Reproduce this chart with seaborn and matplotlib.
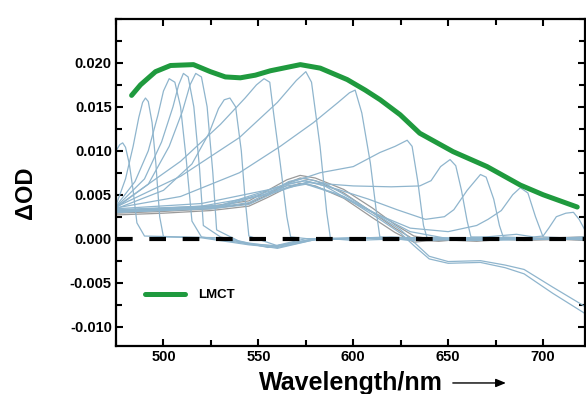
import numpy as np
import pandas as pd
import matplotlib
matplotlib.use("Agg")
import matplotlib.pyplot as plt
from matplotlib.ticker import MultipleLocator
import seaborn as sns

# LMCT envelope (green)
lmct_wl = [483.2, 487.9, 495.8, 503.7, 515.8, 524.7, 532.6, 540.5, 548.4, 556.3, 572.1,
           582.6, 596.8, 606.3, 614.2, 624.7, 635.0, 652.6, 670.5, 688.0, 700.0, 718.0]
lmct_od = [0.0163, 0.0175, 0.0190, 0.0197, 0.0198, 0.0190, 0.0184, 0.0183, 0.0186, 0.0191, 0.0198,
           0.0194, 0.0181, 0.0169, 0.0158, 0.0141, 0.0120, 0.0099, 0.0082, 0.0061, 0.0050, 0.0036]

# transient spectra (blue-grey), one per probe peak
p478_wl = [475, 477, 478.5, 480, 482, 484, 486, 490, 510, 530, 545, 560, 575, 600, 640, 680, 722]
p478_od = [0.0100, 0.0107, 0.0109, 0.0104, 0.0085, 0.0055, 0.0018, 0.0003, 0.0002, 0.0001,
           -0.0006, -0.0008, -0.0002, 0.0001, -0.0002, 0.0001, -0.0001]

p490_wl = [475, 480, 484, 487, 489, 490.5, 492, 494, 496, 498, 500, 520, 545, 560, 580, 620, 660, 722]
p490_od = [0.0038, 0.0068, 0.0105, 0.0138, 0.0155, 0.0160, 0.0156, 0.0132, 0.0085, 0.0025,
           0.0002, 0.0001, -0.0007, -0.0010, -0.0001, 0.0002, -0.0002, 0.0000]

p503_wl = [475, 485, 492, 497, 500, 503, 506, 509, 512, 515, 520, 545, 560, 580, 620, 680, 722]
p503_od = [0.0037, 0.0065, 0.0100, 0.0140, 0.0168, 0.0182, 0.0178, 0.0150, 0.0090, 0.0020,
           0.0002, -0.0006, -0.0011, -0.0001, 0.0001, -0.0001, 0.0001]

p510_wl = [475, 490, 499, 505, 508, 510.5, 513, 516, 519, 521, 530, 545, 560, 580, 620, 690, 722]
p510_od = [0.0036, 0.0068, 0.0110, 0.0150, 0.0175, 0.0188, 0.0184, 0.0150, 0.0080, 0.0015,
           0.0002, -0.0005, -0.0009, 0.0000, 0.0001, 0.0000, -0.0001]

p517_wl = [475, 492, 503, 510, 514, 517, 520, 523, 526, 528, 540, 555, 575, 620, 690, 722]
p517_od = [0.0035, 0.0062, 0.0105, 0.0145, 0.0175, 0.0188, 0.0184, 0.0150, 0.0075, 0.0010,
           -0.0003, -0.0010, 0.0000, 0.0001, -0.0001, 0.0001]

p534_wl = [475, 500, 515, 524, 529, 532, 535, 538, 541, 543, 545, 560, 580, 620, 690, 722]
p534_od = [0.0034, 0.0055, 0.0085, 0.0120, 0.0148, 0.0158, 0.0160, 0.0150, 0.0100, 0.0045,
           0.0003, -0.0008, 0.0000, 0.0001, 0.0000, -0.0001]

p554_wl = [475, 509, 530, 543, 549, 553, 556, 558, 561.5, 565, 567, 580, 620, 690, 722]
p554_od = [0.0036, 0.0088, 0.0130, 0.0160, 0.0175, 0.0182, 0.0178, 0.0143, 0.0086, 0.0025,
           0.0002, -0.0001, 0.0001, -0.0001, 0.0001]

p576_wl = [475, 509, 540, 560, 570, 575, 578, 582.5, 586, 588, 600, 640, 690, 722]
p576_od = [0.0036, 0.0071, 0.0115, 0.0155, 0.0180, 0.0190, 0.0178, 0.0105, 0.0030, 0.0000,
           -0.0002, 0.0001, -0.0001, 0.0002]

p601_wl = [475, 509, 540, 561.5, 579, 592, 598, 601, 604.5, 609, 612.5, 614, 630, 660, 722]
p601_od = [0.0035, 0.0048, 0.0075, 0.0105, 0.0132, 0.0155, 0.0166, 0.0169, 0.0143, 0.0086,
           0.0025, 0.0002, -0.0002, 0.0001, 0.0000]

p628_wl = [475, 520, 556, 582.5, 600, 614, 622, 628.4, 631, 634, 637, 639, 660, 722]
p628_od = [0.0034, 0.0040, 0.0056, 0.0075, 0.0082, 0.0098, 0.0105, 0.0112, 0.0105, 0.0065,
           0.0015, 0.0000, -0.0002, 0.0001]

p651_wl = [475, 520, 555, 575, 600, 620, 635, 641, 646, 651, 654, 657, 660, 662, 690, 722]
p651_od = [0.0033, 0.0037, 0.0050, 0.0064, 0.0060, 0.0059, 0.0060, 0.0066, 0.0082, 0.0090,
           0.0083, 0.0055, 0.0020, 0.0002, 0.0000, -0.0001]

p667_wl = [475, 530, 565, 575, 592, 608, 623, 638, 648, 653, 660, 667, 670, 674, 677, 679, 700, 722]
p667_od = [0.0032, 0.0038, 0.0062, 0.0066, 0.0056, 0.0045, 0.0033, 0.0022, 0.0025, 0.0033,
           0.0055, 0.0073, 0.0070, 0.0045, 0.0015, 0.0002, 0.0000, 0.0001]

p688_wl = [475, 530, 565, 575, 590, 610, 630, 650, 665, 671, 678, 684, 688, 692, 696, 700, 722]
p688_od = [0.0031, 0.0037, 0.0060, 0.0063, 0.0052, 0.0030, 0.0012, 0.0008, 0.0015, 0.0022,
           0.0032, 0.0050, 0.0058, 0.0052, 0.0025, 0.0002, 0.0000]

p716_wl = [475, 530, 565, 575, 595, 615, 630, 650, 670, 686, 695, 700, 703, 707, 712, 716, 719, 722]
p716_od = [0.0030, 0.0036, 0.0058, 0.0062, 0.0048, 0.0025, 0.0008, 0.0000, 0.0002, 0.0005,
           0.0002, 0.0003, 0.0012, 0.0025, 0.0029, 0.0030, 0.0022, 0.0010]

# broad grey band (early-time spectra)
grey1_wl = [475, 500, 525, 545, 555, 565, 572, 580, 595, 610, 622, 632, 645, 665, 690, 722]
grey1_od = [0.0029, 0.0031, 0.0034, 0.0040, 0.0050, 0.0063, 0.0069, 0.0066, 0.0052, 0.0030,
            0.0012, -0.0001, -0.0003, 0.0001, -0.0002, 0.0000]
grey2_od = [0.0027, 0.0029, 0.0032, 0.0037, 0.0047, 0.0058, 0.0063, 0.0060, 0.0046, 0.0024,
            0.0007, -0.0004, -0.0001, -0.0003, 0.0001, -0.0002]
grey3_od = [0.0032, 0.0034, 0.0037, 0.0043, 0.0055, 0.0067, 0.0072, 0.0069, 0.0056, 0.0035,
            0.0016, 0.0003, -0.0002, -0.0001, 0.0000, 0.0002]

neg_wl = [475, 500, 525, 545, 556, 566, 574, 585, 597, 614, 625, 632, 640, 650, 667, 680, 690, 705, 722]
neg1_od = [0.0031, 0.0033, 0.0035, 0.0041, 0.0053, 0.0065, 0.0069, 0.0063, 0.0048, 0.0025,
           0.0010, -0.0004, -0.0020, -0.0026, -0.0025, -0.0030, -0.0035, -0.0055, -0.0077]
neg2_od = [0.0030, 0.0032, 0.0034, 0.0039, 0.0050, 0.0062, 0.0066, 0.0060, 0.0045, 0.0022,
           0.0006, -0.0008, -0.0023, -0.0028, -0.0027, -0.0033, -0.0040, -0.0062, -0.0085]

blue = "#8fb5cd"
grey = "#9a9a9a"
green = "#1f9a3e"

sns.set_theme(style="white")
plt.rcParams["font.family"] = ["Liberation Sans", "DejaVu Sans"]
plt.rcParams["font.weight"] = "bold"
plt.rcParams["text.color"] = "black"

fig = plt.figure(figsize=(5.86, 3.94), dpi=100)
ax = fig.add_axes([0.198, 0.122, 0.800, 0.830])

probes = [(p478_wl, p478_od), (p490_wl, p490_od), (p503_wl, p503_od), (p510_wl, p510_od),
          (p517_wl, p517_od), (p534_wl, p534_od), (p554_wl, p554_od), (p576_wl, p576_od),
          (p601_wl, p601_od), (p628_wl, p628_od), (p651_wl, p651_od), (p667_wl, p667_od),
          (p688_wl, p688_od), (p716_wl, p716_od)]

for od in [grey1_od, grey2_od, grey3_od]:
    sns.lineplot(x=grey1_wl, y=od, ax=ax, color=grey, lw=0.9, sort=False, estimator=None)
for od in [neg1_od, neg2_od]:
    sns.lineplot(x=neg_wl, y=od, ax=ax, color=blue, lw=0.9, sort=False, estimator=None)
for wl, od in probes:
    sns.lineplot(x=wl, y=od, ax=ax, color=blue, lw=0.9, sort=False, estimator=None)

ax.axhline(0, color="black", lw=3.0, dashes=(4.0, 4.0), zorder=3)
sns.lineplot(x=lmct_wl, y=lmct_od, ax=ax, color=green, lw=3.6, sort=False,
             estimator=None, label="LMCT", zorder=4)

ax.set_xlim(475, 722)
ax.set_ylim(-0.0122, 0.0250)
ax.set_xticks([500, 550, 600, 650, 700])
ax.set_yticks([-0.010, -0.005, 0.000, 0.005, 0.010, 0.015, 0.020])
ax.set_yticklabels(["-0.010", "-0.005", "0.000", "0.005", "0.010", "0.015", "0.020"])
ax.xaxis.set_minor_locator(MultipleLocator(25))
ax.yaxis.set_minor_locator(MultipleLocator(0.0025))

for s in ax.spines.values():
    s.set_color("black")
    s.set_linewidth(1.6)

ax.tick_params(axis="both", which="both", colors="black", width=1.5,
               labelsize=10.5, pad=3)
ax.tick_params(axis="both", which="major", length=5)
ax.tick_params(axis="both", which="minor", length=4)
ax.tick_params(bottom=True, left=True, which="both", direction="out")
ax.tick_params(top=True, right=True, which="both", direction="in", labeltop=False, labelright=False)
for lab in ax.get_xticklabels() + ax.get_yticklabels():
    lab.set_fontweight("bold")

ax.set_xlabel("")
ax.set_ylabel("")
fig.text(0.043, 0.512, "\u0394OD", rotation=90, fontsize=17, fontweight="bold",
         color="black", ha="center", va="center")
fig.text(0.599, 0.028, "Wavelength/nm", fontsize=18, fontweight="bold",
         color="black", ha="center", va="center")
fig.add_artist(matplotlib.patches.FancyArrowPatch(
    (0.768, 0.028), (0.868, 0.028), transform=fig.transFigure,
    arrowstyle="-|>,head_length=6,head_width=2.5", lw=1.0, color="black"))

leg = ax.legend(loc="lower left", bbox_to_anchor=(0.037, 0.10), frameon=False,
                handlelength=3.0, handletextpad=1.0, fontsize=9.5)
for t in leg.get_texts():
    t.set_fontweight("bold")
    t.set_color("black")

fig.savefig("out.png", dpi=100)
